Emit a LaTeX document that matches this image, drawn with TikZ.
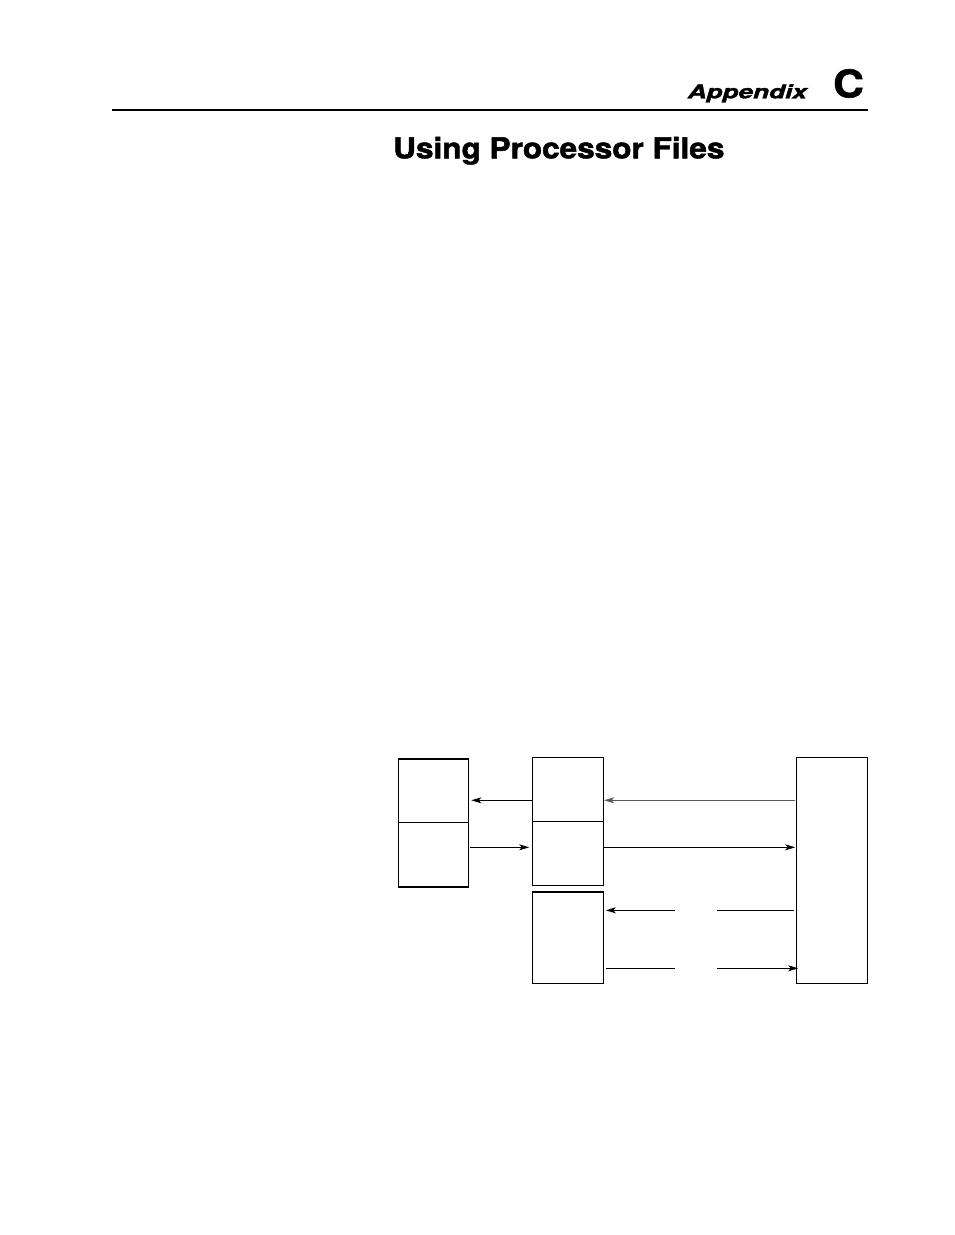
\documentclass[tikz,border=0pt]{standalone}
\usepackage{fontspec}
\setmainfont{TeX Gyre Heros}
\newfontfamily\heavyfont{TeX Gyre Heros}[BoldFeatures={FakeBold=1.6}, BoldItalicFeatures={FakeBold=1.6}]
\usetikzlibrary{arrows.meta}
\tikzset{
  box/.style={draw, line width=1.4pt, inner sep=0pt, outer sep=0pt, minimum width=70.6pt},
  tip/.style={-{Stealth[length=10pt,width=6pt,inset=2.5pt]}, line width=1pt},
  bar/.style={line width=1pt}
}
\begin{document}
\begin{tikzpicture}[x=1pt,y=-1pt]
  \useasboundingbox (0,0) rectangle (954,1235);
  % heading
  \node[anchor=base east, inner sep=0pt] (app) at (807,98.3)
    {\scalebox{1.39}[1]{\heavyfont\fontsize{18.8}{20}\selectfont\bfseries\itshape Appendix}};
  \node[anchor=base west, inner sep=0pt] (letter) at (833,97.3)
    {\scalebox{1.12}[1]{\heavyfont\fontsize{38}{40}\selectfont\bfseries C}};
  \draw[line width=2.6pt] (111.7,110) -- (868,110);
  \node[anchor=base west, inner sep=0pt] (title) at (393,158.3)
    {\scalebox{1.095}[1]{\heavyfont\fontsize{28.8}{30}\selectfont\bfseries Using Processor Files}};
  % boxes
  \draw
    (433.3,790.8) node[box, minimum width=70pt, minimum height=63.7pt] (lu){}
    (433.3,854.8) node[box, minimum width=70pt, minimum height=64.3pt] (ll){}
    (568,789.3) node[box, minimum height=64pt] (mu){}
    (568,853.5) node[box, minimum height=64.4pt] (ml){}
    (568,937.7) node[box, minimum height=91.3pt] (mb){}
    (832,870.3) node[box, minimum height=226pt] (rt){};
  % rows and gaps
  \coordinate (r1) at (0,800.3);
  \coordinate (r2) at (0,847.3);
  \coordinate (r3) at (0,910.3);
  \coordinate (r4) at (0,968.3);
  \coordinate (g1) at (675,0);
  \coordinate (g2) at (717,0);
  \begin{scope}[tip]
    \draw[shorten >=3pt] (mu.west |- r1) to (lu.east |- r1);
    \draw[shorten <=2pt, shorten >=3.5pt] (ll.east |- r2) to (ml.west |- r2);
    \draw[gray!70!black, shorten <=1.5pt, shorten >=0.8pt] (rt.west |- r1) to (mu.east |- r1);
    \draw[shorten <=0.8pt, shorten >=1.5pt] (ml.east |- r2) to (rt.west |- r2);
    \draw[shorten >=2.5pt] (g1 |- r3) to (mb.east |- r3);
    \draw[shorten >=-1.5pt] (g2 |- r4) to (rt.west |- r4);
  \end{scope}
  \begin{scope}[bar]
    \draw[shorten <=3pt] (rt.west |- r3) to (g2 |- r3);
    \draw[shorten <=2.5pt] (mb.east |- r4) to (g1 |- r4);
  \end{scope}
\end{tikzpicture}
\end{document}
